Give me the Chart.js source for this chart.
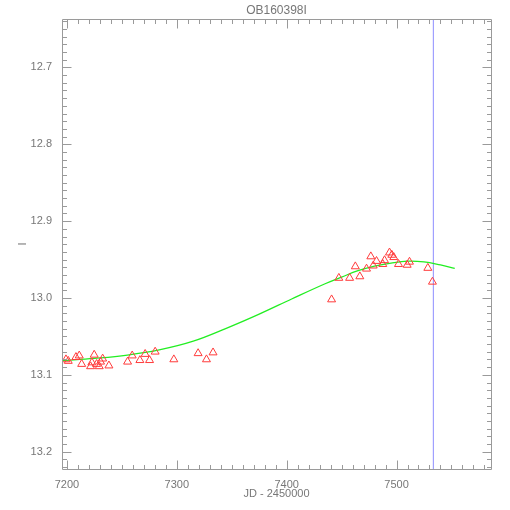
<!DOCTYPE html>
<html>
<head>
<meta charset="utf-8">
<title>OB160398I</title>
<script src="https://cdn.jsdelivr.net/npm/chart.js@4.4.1/dist/chart.umd.min.js"></script>
<style>
  html, body { margin: 0; padding: 0; background: #fff; }
  #lc { display: block; }
</style>
</head>
<body>
<canvas id="lc" width="510" height="510"></canvas>
<script>
// I-band photometry (JD - 2450000, mag)
const obsJD = [
    7199.1, 7201.2, 7208.2, 7211.2, 7213.4, 7221.5, 7222.7, 7224.8, 7227.0, 7229.4,
    7230.6, 7232.5, 7238.2, 7255.2, 7259.4, 7266.4, 7271.2, 7275.2, 7280.3, 7297.3,
    7319.4, 7327.0, 7333.0,
    7440.9, 7447.5, 7457.3, 7462.5, 7466.6, 7472.7, 7476.6, 7478.8, 7481.8, 7487.5,
    7489.1, 7493.6, 7495.7, 7497.5, 7501.8, 7509.7, 7511.8, 7528.5, 7532.7
];
const obsMag = [
    13.080, 13.082, 13.077, 13.075, 13.086, 13.089, 13.084, 13.074, 13.086, 13.089,
    13.083, 13.079, 13.088, 13.083, 13.075, 13.081, 13.073, 13.081, 13.070, 13.080,
    13.072, 13.080, 13.071,
    13.002, 12.974, 12.974, 12.959, 12.972, 12.962, 12.946, 12.958, 12.952, 12.956,
    12.951, 12.941, 12.944, 12.947, 12.956, 12.957, 12.953, 12.961, 12.979
];

// model light curve
const modelJD = [7195.5, 7225, 7255, 7285, 7315, 7345, 7375, 7405, 7435, 7450, 7465, 7480, 7495, 7510, 7525, 7540, 7553];
const modelMag = [13.0815, 13.0785, 13.0742, 13.0672, 13.0562, 13.0395, 13.0210, 13.0010, 12.9815, 12.9728, 12.9645, 12.9585, 12.9545, 12.9520, 12.9530, 12.9570, 12.9614];

// vertical marker (current date)
const markJD = 7533.6;

// axes
const xMin = 7195.5, xMax = 7586;
const yMin = 12.637, yMax = 13.2225;
const xTicks = [7200, 7300, 7400, 7500];
const yTicks = [12.7, 12.8, 12.9, 13.0, 13.1, 13.2];
const xMinorStep = 10;
const yMinorStep = 0.01;

const axisColor = '#9a9a9a';
const textColor = '#777777';
const fontFamily = '"Liberation Sans", "DejaVu Sans", sans-serif';

// IDL-style frame: box on all four sides with inward ticks
const idlAxes = {
    id: 'idlAxes',
    afterDraw(chart) {
        const { ctx, chartArea: a, scales: { x, y } } = chart;
        const L = Math.round(a.left) + 0.5, R = Math.round(a.right) + 0.5;
        const T = Math.round(a.top) + 0.5, B = Math.round(a.bottom) + 0.5;
        ctx.save();
        ctx.strokeStyle = axisColor;
        ctx.lineWidth = 1;
        ctx.beginPath();
        ctx.rect(L, T, R - L, B - T);

        // x ticks
        for (let v = Math.ceil(xMin / xMinorStep) * xMinorStep; v <= xMax; v += xMinorStep) {
            const px = Math.round(x.getPixelForValue(v)) + 0.5;
            const len = (Math.round(v) % 100 === 0) ? 9 : 4.5;
            ctx.moveTo(px, B); ctx.lineTo(px, B - len);
            ctx.moveTo(px, T); ctx.lineTo(px, T + len);
        }
        // y ticks
        for (let k = Math.ceil(yMin / yMinorStep); k * yMinorStep <= yMax; k++) {
            const py = Math.round(y.getPixelForValue(k * yMinorStep)) + 0.5;
            const len = (k % 10 === 0) ? 9 : 4.5;
            ctx.moveTo(L, py); ctx.lineTo(L + len, py);
            ctx.moveTo(R, py); ctx.lineTo(R - len, py);
        }
        ctx.stroke();
        ctx.restore();
    }
};

const ctx = document.getElementById('lc').getContext('2d');

new Chart(ctx, {
    type: 'scatter',
    data: {
        datasets: [
            {
                label: 'obs',
                data: obsJD.map((v, i) => ({ x: v, y: obsMag[i] })),
                pointStyle: 'triangle',
                pointRadius: 4.6,
                borderColor: '#ff3b3b',
                backgroundColor: 'rgba(0,0,0,0)',
                pointBorderWidth: 1,
                order: 1
            },
            {
                label: 'model',
                data: modelJD.map((v, i) => ({ x: v, y: modelMag[i] })),
                showLine: true,
                borderColor: '#22ee22',
                borderWidth: 1.3,
                pointRadius: 0,
                tension: 0.4,
                order: 2
            },
            {
                label: 'now',
                data: [{ x: markJD, y: yMin }, { x: markJD, y: yMax }],
                showLine: true,
                borderColor: '#a0a0ff',
                borderWidth: 1,
                pointRadius: 0,
                order: 3
            }
        ]
    },
    options: {
        responsive: false,
        animation: false,
        layout: { padding: { left: 0, right: 19, top: 0, bottom: 0 } },
        plugins: {
            legend: { display: false },
            tooltip: { enabled: false }
        },
        scales: {
            x: {
                type: 'linear',
                min: xMin,
                max: xMax,
                afterFit(s) { s.height = 41; },
                afterBuildTicks(s) { s.ticks = xTicks.map(v => ({ value: v })); },
                grid: { display: false, drawTicks: false, tickLength: 0 },
                border: { display: false },
                ticks: {
                    color: textColor,
                    font: { family: fontFamily, size: 11 },
                    padding: 9,
                    maxRotation: 0,
                    callback: v => String(v)
                },
                title: {
                    display: true,
                    text: 'JD - 2450000',
                    color: textColor,
                    font: { family: fontFamily, size: 11, lineHeight: 1.2 },
                    padding: { top: 0, bottom: 9 }
                }
            },
            // top axis only carries the plot title, centred over the plot box
            x2: {
                type: 'linear',
                position: 'top',
                min: xMin,
                max: xMax,
                afterFit(s) { s.height = 19; },
                grid: { display: false, drawTicks: false, tickLength: 0 },
                border: { display: false },
                ticks: { display: false },
                title: {
                    display: true,
                    text: 'OB160398I',
                    color: textColor,
                    font: { family: fontFamily, size: 12, lineHeight: 1.2 },
                    padding: { top: 3, bottom: 0 }
                }
            },
            y: {
                type: 'linear',
                reverse: true,
                min: yMin,
                max: yMax,
                afterFit(s) { s.width = 62; },
                afterBuildTicks(s) { s.ticks = yTicks.map(v => ({ value: v })); },
                grid: { display: false, drawTicks: false, tickLength: 0 },
                border: { display: false },
                ticks: {
                    color: textColor,
                    font: { family: fontFamily, size: 11 },
                    padding: 10,
                    callback: v => v.toFixed(1)
                },
                title: {
                    display: true,
                    text: 'I',
                    color: textColor,
                    font: { family: fontFamily, size: 11, lineHeight: 1.2 },
                    padding: { top: 16, bottom: 0 }
                }
            }
        }
    },
    plugins: [idlAxes]
});
</script>
</body>
</html>
